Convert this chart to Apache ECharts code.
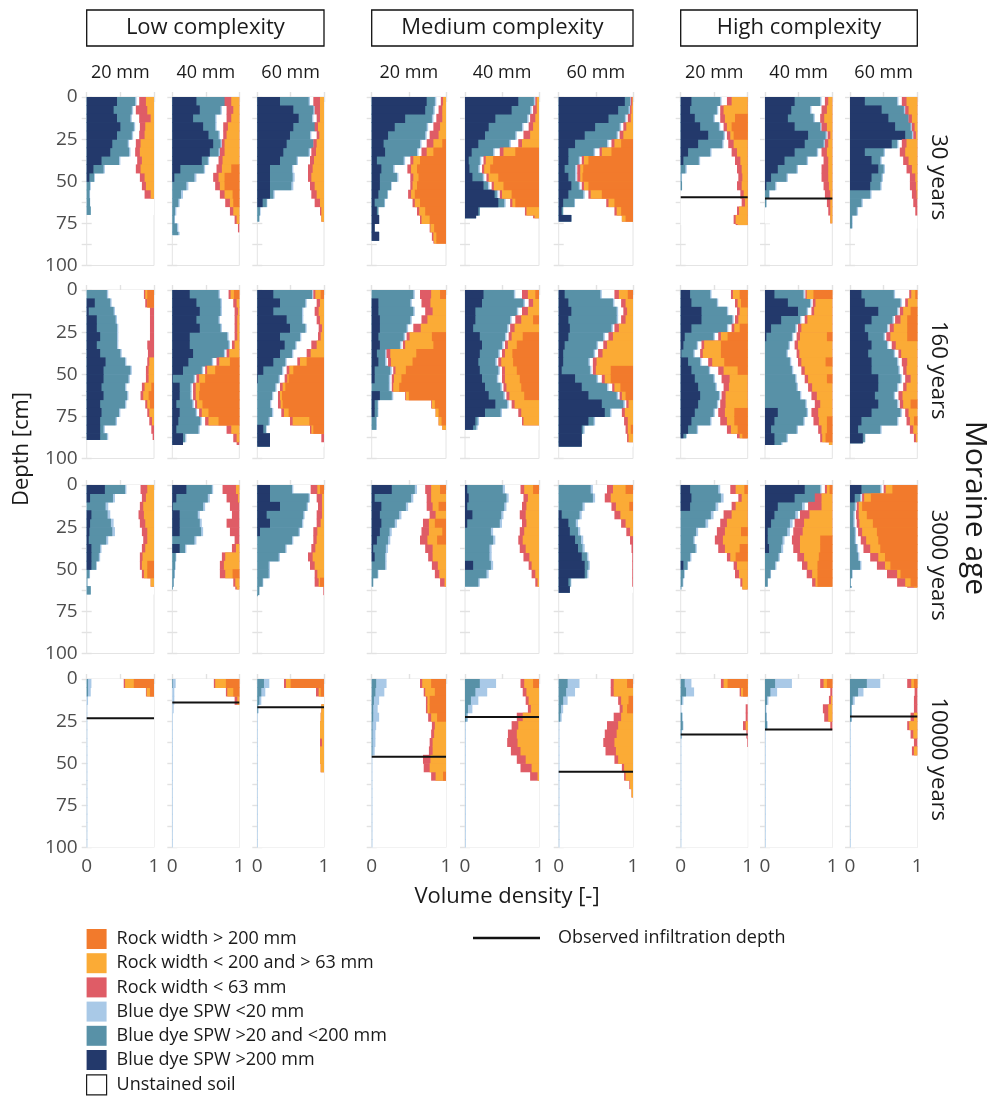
<!DOCTYPE html>
<html>
<head>
<meta charset="utf-8">
<title>Preferential flow profiles by moraine age</title>
<script src="https://cdn.jsdelivr.net/npm/echarts@6/dist/echarts.min.js"></script>
<style>
  html, body { margin: 0; padding: 0; background: #fff; }
  #chart { width: 991px; height: 1097px; }
</style>
</head>
<body>
<div id="chart"></div>
<script>
// ---- Labels --------------------------------------------------------------
const ages = ['30 years', '160 years', '3000 years', '10000 years'];
const complexities = ['Low complexity', 'Medium complexity', 'High complexity'];
const sprinklerWidths = ['20 mm', '40 mm', '60 mm'];
const depthTicks = [0, 25, 50, 75, 100];
const densityTicks = [0, 1];

// Depth bins are 5 cm thick. Panels are ordered row by row:
// age (30, 160, 3000, 10000 y) x complexity (low, medium, high) x width (20, 40, 60 mm).
// Values are volume shares in percent per bin.
const binSize = 5;

// depth [cm] down to which each profile was mapped
const profileDepth = [
  70, 82, 74, 87, 72, 74, 76, 75, 78,
  89, 92, 93, 83, 83, 93, 88, 92, 91,
  65, 62, 66, 61, 61, 64, 62, 61, 61,
  100, 100, 100, 100, 100, 100, 100, 100, 100
];

// observed infiltration depth [cm] (null = not drawn)
const infiltrationDepth = [
  null, null, null, null, null, null, 59.5, 60.2, null,
  null, null, null, null, null, null, null, null, null,
  null, null, null, null, null, null, null, null, null,
  23.3, 14, 16.8, 46.2, 22.5, 55, 33, 30, 22.3
];

// Blue dye SPW > 200 mm
const dyeLarge = [
  [45,40,45,50,45,38,35,22,10,4],
  [36,41,31,46,54,61,56,44,12,3],
  [34,54,62,54,49,44,39,34,19,19,19,19,8],
  [74,72,45,31,22,16,18,7,13,11,11,9,4,7,10,4,10],
  [72,63,41,32,27,18,9,5,6,10,25,40,45,18,15],
  [89,80,67,49,35,22,13,13,8,13,17,13,6,4,17],
  [16,14,21,29,41,26,11,4],
  [44,39,34,44,64,59,44,29,19,9,2],
  [22,47,57,67,82,62,22,32,42,32,30],
  [0,12,3,15,15,20,15,20,28,25,25,22,25,20,22,20,20,20],
  [26,36,41,36,41,26,26,31,24,16,1,11,11,6,11,9,6,16,16],
  [24,34,24,44,49,34,41,34,24,9,1,0,0,0,0,0,9,19,19],
  [0,9,9,11,11,9,11,7,9,4,4,0,11,4,4],
  [25,23,14,14,11,20,23,20,18,20,23,27,32,41,27,14,11],
  [8,13,17,13,15,13,8,6,6,4,22,31,40,58,62,40,31,31,31],
  [14,16,31,31,16,6,4,1,11,16,21,26,29,26,21,16,11,4],
  [14,34,49,24,9,2,0,0,0,0,0,0,0,0,19,14,9,14,14],
  [17,22,42,32,22,27,32,27,32,32,42,42,37,42,32,17,12,19,19],
  [27,5,0,7,5,4,3,7,7,7],
  [21,6,1,11,11,11,0,11],
  [19,19,34,14,19,4],
  [27,4,13,11,13,11,7,2,4],
  [3,5,3,10,3,0,0,0,0,11],
  [0,0,0,4,13,15,22,26,31,35,35,13,15],
  [14,16,14,0,0,0,0,0,0,4],
  [59,44,19,14,9,4,4,6],
  [17,7],
  [], [], [], [], [], [], [], [], []
];

// Blue dye SPW > 20 and < 200 mm
const dyeMid = [
  [27,27,20,20,22,23,28,26,15,7,5,4,5,6],
  [48,31,33,18,15,11,13,9,35,30,21,13,9,4,3,7,9],
  [43,30,20,33,30,40,38,25,33,34,32,5,6,4,3],
  [11,11,36,43,50,49,43,36,16,23,15,12,13,2],
  [21,25,43,45,41,42,29,15,12,14,6,3,8,2],
  [7,14,22,33,43,43,34,14,14,9,10,20,15,2],
  [43,40,28,28,23,36,33,23,7,1,2],
  [38,28,38,38,26,28,33,33,28,23,13,6,2],
  [48,33,30,23,10,8,28,13,8,15,15,30,17,10,3,3],
  [30,23,37,28,30,25,30,30,29,40,37,35,35,37,26,23,5,10],
  [43,36,31,33,31,56,58,46,35,28,31,16,16,24,24,33,33,3],
  [58,38,43,23,23,30,16,18,18,28,31,27,22,19,22,17,4],
  [56,43,47,41,36,34,27,11,9,21,19,23,16,4,4,6,6],
  [41,56,56,47,46,34,27,25,23,25,20,21,20,16,21,3,4],
  [48,60,61,65,56,47,43,41,34,38,29,34,38,29,7,7,2],
  [30,38,38,46,53,43,20,18,18,26,28,26,28,28,28,28,13,4],
  [43,33,13,28,36,38,35,32,37,40,45,47,52,60,43,43,38,18,10],
  [48,53,28,31,33,23,23,38,38,40,33,28,28,28,43,53,33,3],
  [30,34,28,24,31,34,26,13,11,7,4,1,6],
  [38,47,45,27,30,32,33,8,5,4,3,2,1],
  [33,58,40,55,48,58,52,42,32,17,17,8,3,1],
  [31,49,33,26,18,13,15,17,14,18,8,2],
  [48,51,50,39,44,35,38,33,33,24,29,18],
  [43,46,32,24,10,11,8,6,7,5,3,3],
  [42,44,38,45,37,23,19,22,14,6,5,3,1],
  [23,32,36,31,28,29,22,18,20,15,8,4],
  [28,8,7,5,5,7,7,10,12,15,3,1,2],
  [2,2],
  [1],
  [10,6,3,1],
  [6,5,3,2,2,1,1,1,1],
  [20,14,8,4,2],
  [12,10,6,3,2],
  [6,8,2,0,2,3,1],
  [15,8,3,1,2,3],
  [25,12,4,2,2]
];

// Blue dye SPW < 20 mm
const dyeSmall = [
  [2,2,2,2,2,2,2,2,2,1,1,1],
  [2,2,2,2,2,2,2,2,2,3,3,3,2,2,1,2,2],
  [2,2,2,2,2,2,2,2,2,3,3,2,1,1],
  [2,2,2,2,2,2,2,2,2,2,1,1,1],
  [2,2,2,2,2,2,2,2,2,2,2,2,2],
  [2,2,2,2,2,2,2,2,2,2,2,2,1],
  [2,2,2,2,2,2,2,2,2,1],
  [2,2,2,2,2,2,2,2,2,2,2,1],
  [2,2,2,2,2,2,2,2,2,2,2,2,2,2,1,1],
  [2,2,2,2,2,2,2,2,2,2,2,2,2,2,2,2,2,2],
  [2,2,2,2,2,2,2,2,2,2,2,2,2,2,2,2,2,2],
  [2,2,2,2,2,2,2,2,2,2,2,2,2,2,2,2,1],
  [2,2,2,2,2,2,2,2,2,2,2,2,2,1,1,1,1],
  [2,2,2,2,2,2,2,2,2,2,2,2,2,2,2,2,2],
  [2,2,2,2,2,2,2,2,2,2,2,2,2,2,2,2,2],
  [2,2,2,2,2,2,2,2,2,2,2,2,2,2,2,2,2,1],
  [2,2,2,2,2,2,2,2,2,2,2,2,2,2,2,2,2,2,2],
  [2,2,2,2,2,2,2,2,2,2,2,2,2,2,2,2,2,1],
  [2,3,4,4,4,4,3,2,2,1,1],
  [2,3,3,3,3,3,3,2,1,1,1],
  [2,2,2,2,2,2,2,2,2,2,2,1],
  [3,3,3,3,3,3,3,3,2,2,1],
  [3,3,3,3,3,3,3,3,3,3,3,2],
  [3,3,3,3,3,3,3,3,2,2,2,1],
  [3,4,4,4,4,3,2,2,2,1,1,1],
  [2,3,4,4,4,4,3,3,2,2,1],
  [2,2,2,2,2,2,2,2,2,2,1,0,1],
  [5,4,2,1,1,1,1,1,1,1,1,1,1,1,1,1,1,1,1,1],
  [4,3,3,2,1,1,1,1,1,1,1,1,1,1,1,1,1,1,1,1],
  [8,6,3,1,1,1,1,1,1,1,1,1,1,1,1,1,1,1,1,1],
  [14,12,7,6,8,5,4,4,3,1,1,1,1,1,1,1,1,1,1,1],
  [22,16,10,6,2,1,1,1,1,1,1,1,1,1,1,1,1,1,1,1],
  [16,12,6,3,2,1,1,1,1,1,1,1,1,1,1,1,1,1,1,1],
  [10,12,2,1,1,1,1,1,1,1,1,1,1,1,1,1,1,1,1,1],
  [25,10,2,1,1,1,1,1,1,1,1,1,1,1,1,1,1,1,1,1],
  [20,8,3,1,1,1,1,1,1,1,1,1,1,1,1,1,1,1,1,1]
];

// Rock width < 63 mm
const rockSmall = [
  [10,17,17,8,8,7,7,7,7,7,6,9],
  [10,10,7,7,5,4,7,6,8,8,7,7,7,5,3,2],
  [10,8,5,5,4,5,7,6,7,5,7,8,8,2],
  [3,5,8,9,12,9,7,4,5,4,3,4,3,3,2,1,2,1],
  [2,5,7,6,9,5,5,3,3,3,3,3,3,2,2],
  [2,2,4,4,5,4,3,3,4,4,3,3,3,3],
  [7,5,7,5,5,8,8,8,7,6,7,5,5,3,3,3],
  [5,8,6,8,4,5,8,7,10,10,8,8,5,3],
  [7,5,5,4,4,7,8,8,8,8,9,7,6,3],
  [2,3,6,6,6,6,10,9,3,4,4,4,4,3,3,4,4,2],
  [3,5,5,4,4,4,4,4,4,3,4,4,4,3,4,5,7,5,4],
  [3,5,6,5,5,4,8,6,4,4,4,4,3,4,4,4,2,4],
  [15,12,10,8,10,4,3,5,4,3,3,2,1,1],
  [8,6,8,8,6,4,4,4,4,4,4,4,4,4,4,2],
  [6,6,5,6,6,6,5,6,5,4,4,3,3,3,4,5,3,2],
  [3,4,4,5,4,4,4,4,6,8,12,8,6,8,10,10,6,4],
  [2,4,4,4,5,5,5,4,5,5,5,6,8,8,10,8,5,3],
  [3,4,5,8,6,6,6,4,8,5,8,5,6,5,5,5,5,3],
  [10,6,5,8,8,8,6,5,4,3,3],
  [20,17,14,11,19,14,7,6,5,6,8,3,2],
  [10,8,6,8,6,6,5,6,7,7,4,6,1],
  [8,6,8,8,8,10,10,10,6,8,6,6],
  [5,6,6,8,6,6,6,8,8,4,5,3],
  [8,8,6,8,6,5,4,2,1,1,1,1],
  [8,5,6,12,10,12,12,10,5,5,6,3],
  [3,10,20,14,14,14,12,10,10,8,8,5],
  [3,3,3,4,4,6,8,10,12,12,15,12,10],
  [2,1],
  [2,2,4],
  [3,4,0,0,0,0,0,3],
  [3,2,2,2,4,4,4,4,5,10,8,6],
  [5,5,4,4,8,9,12,14,13,12,15,10],
  [4,4,4,4,10,15,16,15,14,5,3,2,1],
  [4,2,0,3,3,4,2,1],
  [5,3,3,8,6,3],
  [6,4,5,5,5,3,4,5,3]
];

// Rock width < 200 and > 63 mm
const rockMid = [
  [12,10,5,13,14,20,21,18,20,14,12,5],
  [12,9,12,17,19,22,22,25,14,9,7,12,5,9,4],
  [6,6,6,9,7,11,12,15,17,19,14,11,6,4,4],
  [4,5,5,8,10,12,9,9,8,7,6,5,7,8,11,5,4,3],
  [3,3,5,8,12,23,16,10,8,13,13,13,4,17,6],
  [1,2,3,9,13,9,13,6,4,3,6,15,8,6,5],
  [24,36,15,7,5,21,16,11,9,8,9,6,4,13,18,15],
  [6,8,12,8,3,6,8,6,6,6,5,3,3,3,3],
  [16,13,8,4,2,16,18,13,8,3,2,1],
  [3,0,0,0,0,0,0,0,7,8,8,10,8,4,7,3],
  [5,4,2,3,3,3,7,15,16,12,9,6,5,8,10,15,12,4],
  [8,6,8,6,3,5,11,20,10,6,2,4,3,3,7,25,3],
  [12,21,18,25,34,30,38,35,29,14,10,8,4,4,4,4,5],
  [10,8,15,16,33,15,12,10,16,16,20,20,20,33,24,21],
  [12,10,8,10,19,27,35,41,49,20,8,8,5,6,11,7,4,6],
  [10,5,12,14,8,10,25,27,18,21,27,28,33,33,14,11,10,4],
  [10,25,27,37,46,40,51,49,36,41,28,30,23,18,21,12,8,5,5],
  [6,14,11,10,20,25,32,24,15,16,10,16,22,11,13,6,6,2],
  [10,12,16,15,13,10,10,13,17,8,5,5],
  [5,2,0,0,0,0,0,5,21,23,11,6,4],
  [4,3,3,3,5,10,11,13,17,14,10,2],
  [12,20,8,14,8,18,13,18,18,11,9,2],
  [12,15,17,18,17,20,22,18,13,10,5,2],
  [17,30,18,17,10,4],
  [13,9,18,24,31,24,37,22,8,16,13,8,8],
  [4,16,16,34,42,44,30,30,22,15,8,3],
  [10,10,5,12,20,22,18,15,10,8,5,8,5],
  [13,5],
  [16,9,3],
  [7,3,0,4,5,6,6,3,6,6,5],
  [12,13,3,3,8,15,16,18,18,21,22,10],
  [12,17,14,11,22,28,30,29,25,18,10,2],
  [18,26,10,6,16,20,22,25,23,20,12,10,4,2],
  [6,3,0,0,0,3],
  [5,0,2,6,6],
  [4,0,0,0,5,12,6,0,5]
];

// Rock width > 200 mm
const rockLarge = [
  [],
  [0,0,0,0,0,0,0,0,12,22,22,10,9],
  [],
  [0,0,0,0,0,5,17,35,39,37,39,42,35,28,22,16,13,13],
  [0,0,0,0,0,0,32,62,66,55,48,37,32],
  [0,0,0,0,0,16,29,60,67,68,60,42,25,16,10],
  [0,0,19,24,21],
  [],
  [],
  [10,10,0,0,0,0,0,0,0,0,0,4,8,6],
  [8,0,0,0,0,0,0,0,14,36,51,59,60,55,46,31],
  [5,0,0,0,0,0,0,0,26,46,53,58,63,62,53,22,16],
  [8,0,0,0,0,19,17,40,45,54,60,63,50,15,10,6],
  [5,0,0,8,0,22,30,36,35,30,26,24,20],
  [7,0,0,0,0,0,0,0,0,30,30,17,10,0,0,0,3],
  [12,10,0,0,12,30,40,40,35,15,0,0,0,0,20,20,15,8],
  [28,0,0,0,0,8,0,0,10,0,8,0,0,0,0,8,8,10],
  [3,0,10,15,15,15,0,0,0,0,0,0,0,10,0,5],
  [0,0,0,0,0,0,0,0,0,10,10],
  [0,0,0,0,0,0,0,0,0,0,10],
  [6,0,0,0,0,0,0,0,0,0,0,6],
  [8,0,10,0,15,5,12],
  [8],
  [10,0,5],
  [5,0,0,0,0,10,0,12,18],
  [4,0,0,0,0,0,18,18,20,22,22,22],
  [37,69,82,75,66,60,58,55,48,40,25,10],
  [30,6],
  [20,9],
  [50,5],
  [20,15,22,22,12,0,0,0,0,0,0,4],
  [8],
  [8,0,6,8],
  [30,7],
  [8],
  [5]
];

// ---- Styling -------------------------------------------------------------
const FONT = '"Open Sans", "Noto Sans", "DejaVu Sans", sans-serif';
const NAME = {
  rockLarge: 'Rock width > 200 mm',
  rockMid: 'Rock width < 200 and > 63 mm',
  rockSmall: 'Rock width < 63 mm',
  dyeSmall: 'Blue dye SPW <20 mm',
  dyeMid: 'Blue dye SPW >20 and <200 mm',
  dyeLarge: 'Blue dye SPW >200 mm',
  unstained: 'Unstained soil',
  infiltration: 'Observed infiltration depth'
};
const COLOR = {
  rockLarge: '#f27a2c',
  rockMid: '#fbab36',
  rockSmall: '#df5c66',
  dyeSmall: '#a9c9e7',
  dyeMid: '#5891a7',
  dyeLarge: '#23396b',
  unstained: '#ffffff'
};

// panel layout (pixels)
const colX = [86.7, 172.3, 257.3, 371.7, 465, 558.7, 680.7, 765, 850];
const colW = [67.3, 67, 66.7, 74.3, 74, 74.3, 67, 67.3, 67.3];
const rowY = [97, 290, 485, 679];
const ROW_H = 168.5;

const share = (arr, p, b) => ((arr[p] && arr[p][b]) || 0) / 100;

// one horizontal slab per depth bin; x0..x1 on the density axis
function slabRenderer(color) {
  return function (params, api) {
    const x0 = api.value(2), x1 = api.value(3);
    if (!(x1 - x0 > 0)) return null;
    const a = api.coord([x0, api.value(0)]);
    const b = api.coord([x1, api.value(1)]);
    return {
      type: 'rect',
      shape: { x: a[0], y: a[1], width: b[0] - a[0], height: b[1] - a[1] + api.value(4) * 0.6 },
      style: { fill: color }
    };
  };
}

const grids = [], xAxes = [], yAxes = [], series = [];
const tick = { show: true, inside: false, length: 5, lineStyle: { color: '#e2e2e2', width: 1.4 } };

for (let p = 0; p < 36; p++) {
  const r = Math.floor(p / 9), c = p % 9;
  grids.push({
    left: colX[c], top: rowY[r], width: colW[c], height: ROW_H,
    show: true, borderColor: '#e4e4e4', borderWidth: 1, backgroundColor: 'transparent',
    containLabel: false, outerBoundsMode: 'none'
  });
  xAxes.push({
    gridIndex: p, type: 'value', min: 0, max: 1, interval: 0.5, position: 'bottom',
    axisLine: { show: false }, splitLine: { show: false }, axisTick: tick,
    axisLabel: {
      show: r === 3, margin: 10, fontSize: 19, color: '#4d4d4d', fontFamily: FONT,
      formatter: v => (densityTicks.includes(v) ? String(v) : '')
    }
  });
  xAxes.push({
    gridIndex: p, type: 'value', min: 0, max: 1, interval: 0.5, position: 'top',
    axisLine: { show: false }, splitLine: { show: false }, axisTick: tick, axisLabel: { show: false }
  });
  yAxes.push({
    gridIndex: p, type: 'value', inverse: true, min: 0, max: 100, interval: 12.5, position: 'left',
    axisLine: { show: false }, splitLine: { show: false }, axisTick: tick,
    axisLabel: {
      show: c === 0, margin: 9, fontSize: 19, color: '#4d4d4d', fontFamily: FONT,
      formatter: v => (depthTicks.includes(v) ? String(v) : '')
    }
  });
  yAxes.push({
    gridIndex: p, type: 'value', inverse: true, min: 0, max: 100, interval: 12.5, position: 'right',
    axisLine: { show: false }, splitLine: { show: false }, axisTick: tick, axisLabel: { show: false }
  });

  const depth = profileDepth[p];
  const nBins = Math.ceil(depth / binSize);
  const items = { unstained: [[0, depth, 0, 1, 0]], dyeSmall: [], dyeMid: [], dyeLarge: [], rockSmall: [], rockMid: [], rockLarge: [] };
  for (let b = 0; b < nBins; b++) {
    const top = b * binSize;
    const bot = Math.min(top + binSize, depth);
    const ov = bot < depth ? 1 : 0;
    const nv = share(dyeLarge, p, b), tl = share(dyeMid, p, b), lb = share(dyeSmall, p, b);
    const rs = share(rockSmall, p, b), rm = share(rockMid, p, b), rl = share(rockLarge, p, b);
    // blue classes grow from the left edge, rock classes from the right edge
    items.dyeSmall.push([top, bot, 0, nv + tl + lb, ov]);
    items.dyeMid.push([top, bot, 0, nv + tl, ov]);
    items.dyeLarge.push([top, bot, 0, nv, ov]);
    items.rockSmall.push([top, bot, 1 - (rs + rm + rl), 1, ov]);
    items.rockMid.push([top, bot, 1 - (rm + rl), 1, ov]);
    items.rockLarge.push([top, bot, 1 - rl, 1, ov]);
  }
  ['unstained', 'dyeSmall', 'dyeMid', 'dyeLarge', 'rockSmall', 'rockMid', 'rockLarge'].forEach(key => {
    series.push({
      type: 'custom', name: NAME[key], coordinateSystem: 'cartesian2d',
      xAxisIndex: 2 * p, yAxisIndex: 2 * p, silent: true,
      encode: { x: [2, 3], y: [0, 1] },
      itemStyle: key === 'unstained'
        ? { color: COLOR[key], borderColor: '#1a1a1a', borderWidth: 1.2 }
        : { color: COLOR[key] },
      renderItem: slabRenderer(COLOR[key]),
      data: items[key]
    });
  });
  if (infiltrationDepth[p] != null) {
    const d = infiltrationDepth[p];
    series.push({
      type: 'line', name: NAME.infiltration, xAxisIndex: 2 * p, yAxisIndex: 2 * p,
      data: [[0, d], [1, d]], symbol: 'none', silent: true, z: 5,
      lineStyle: { color: '#111', width: 2 }, itemStyle: { color: '#111' }
    });
  }
}

// ---- Titles and annotations ---------------------------------------------
function text(str, x, y, size, rotation) {
  return {
    type: 'text', x: x, y: y, rotation: rotation || 0, silent: true,
    style: {
      text: str, fill: '#1a1a1a', font: size + 'px ' + FONT,
      textAlign: 'center', textVerticalAlign: 'middle', align: 'center', verticalAlign: 'middle'
    }
  };
}
const graphics = [];
complexities.forEach((name, g) => {
  const x0 = colX[3 * g], x1 = colX[3 * g + 2] + colW[3 * g + 2];
  graphics.push({
    type: 'rect', silent: true, shape: { x: x0, y: 10, width: x1 - x0, height: 36 },
    style: { fill: 'none', stroke: '#111', lineWidth: 1.3 }
  });
  graphics.push(text(name, (x0 + x1) / 2, 28, 22));
});
for (let c = 0; c < 9; c++) {
  graphics.push(text(sprinklerWidths[c % 3], colX[c] + colW[c] / 2, 73, 18));
}
ages.forEach((age, r) => {
  graphics.push(text(age, 938, rowY[r] + ROW_H / 2 - 4, 22, -Math.PI / 2));
});
graphics.push(text('Moraine age', 975, 508, 30, -Math.PI / 2));
graphics.push(text('Depth [cm]', 22, 449, 22, Math.PI / 2));
graphics.push(text('Volume density [-]', 507, 897, 22));

const option = {
  animation: false,
  backgroundColor: '#ffffff',
  grid: grids,
  xAxis: xAxes,
  yAxis: yAxes,
  series: series,
  graphic: { elements: graphics },
  legend: [
    {
      orient: 'vertical', left: 86, top: 929, padding: 0, icon: 'rect',
      itemWidth: 20, itemHeight: 20, itemGap: 4.2, selectedMode: false,
      textStyle: { fontSize: 18, color: '#1a1a1a', fontFamily: FONT, padding: [0, 0, 0, 5] },
      data: [
        { name: NAME.rockLarge },
        { name: NAME.rockMid },
        { name: NAME.rockSmall },
        { name: NAME.dyeSmall },
        { name: NAME.dyeMid },
        { name: NAME.dyeLarge },
        { name: NAME.unstained, itemStyle: { color: '#ffffff', borderColor: '#1a1a1a', borderWidth: 1.2 } }
      ]
    },
    {
      orient: 'horizontal', left: 473, top: 929, padding: 0, icon: 'rect',
      itemWidth: 67, itemHeight: 2.5, selectedMode: false,
      textStyle: { fontSize: 18, color: '#1a1a1a', fontFamily: FONT, padding: [0, 0, 0, 13] },
      data: [{ name: NAME.infiltration }]
    }
  ]
};

const chart = echarts.init(document.getElementById('chart'), null, { renderer: 'canvas', width: 991, height: 1097 });
chart.setOption(option);
</script>
</body>
</html>
